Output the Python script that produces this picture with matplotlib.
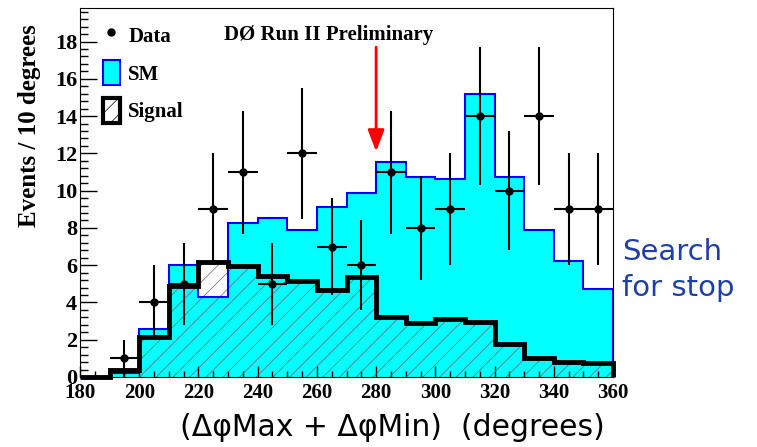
import matplotlib
matplotlib.use('Agg')
import matplotlib.pyplot as plt
from matplotlib.patches import Patch
from matplotlib.lines import Line2D
from matplotlib.ticker import MultipleLocator

# histogram binning (degrees)
bin_edges = [180, 190, 200, 210, 220, 230, 240, 250, 260, 270,
             280, 290, 300, 310, 320, 330, 340, 350, 360]

# SM expectation per bin
sm_counts = [0.0, 0.2, 2.6, 6.0, 4.3, 8.25, 8.55, 7.9, 9.1, 9.9,
             11.55, 10.75, 10.65, 15.2, 10.75, 7.9, 6.2, 4.7]

# signal expectation per bin
signal_counts = [0.0, 0.35, 2.17, 4.86, 6.15, 5.94, 5.4, 5.13, 4.65, 5.37,
                 3.2, 2.88, 3.1, 2.93, 1.77, 1.04, 0.79, 0.73]

# data points (bin centres)
data_x = [195, 205, 215, 225, 235, 245, 255, 265, 275,
          285, 295, 305, 315, 325, 335, 345, 355]
data_y = [1, 4, 5, 9, 11, 5, 12, 7, 6, 11, 8, 9, 14, 10, 14, 9, 9]
data_err = [1.0, 2.0, 2.2, 3.0, 3.3, 2.2, 3.5, 2.6, 2.4,
            3.3, 2.8, 3.0, 3.7, 3.2, 3.7, 3.0, 3.0]
bin_half_width = 5

x_ticks = [180, 200, 220, 240, 260, 280, 300, 320, 340, 360]
y_ticks = [0, 2, 4, 6, 8, 10, 12, 14, 16, 18]

# cut position marked by the arrow
cut_x = 280
arrow_top, arrow_tip = 17.7, 12.1

plt.rcParams['font.family'] = ['Liberation Serif', 'DejaVu Serif']
plt.rcParams['font.weight'] = 'bold'
plt.rcParams['hatch.linewidth'] = 0.5

fig = plt.figure(figsize=(7.57, 4.47), dpi=100)
ax = fig.add_axes([80 / 757, 1 - 377 / 447, 533 / 757, 369 / 447])

# SM fill, signal hatching, then the outlines on top
ax.stairs(sm_counts, bin_edges, fill=True, facecolor='#00ffff',
          edgecolor='none', zorder=1)
ax.stairs(signal_counts, bin_edges, fill=True, facecolor='none',
          edgecolor='#666666', hatch='//', linewidth=0, zorder=2)
ax.stairs(sm_counts, bin_edges, fill=False, color='#0000ff',
          linewidth=1.5, zorder=3)
ax.stairs(signal_counts, bin_edges, fill=False, color='black',
          linewidth=3.5, zorder=4, clip_on=False)
ax.errorbar(data_x, data_y, yerr=data_err, xerr=bin_half_width, fmt='o',
            color='black', markersize=5, elinewidth=1.5, capsize=0, zorder=5)

ax.set_xlim(180, 360)
ax.set_ylim(0, 19.8)
ax.set_xticks(x_ticks)
ax.set_yticks(y_ticks)
ax.xaxis.set_minor_locator(MultipleLocator(5))
ax.yaxis.set_minor_locator(MultipleLocator(0.4))
ax.tick_params(which='both', direction='in', top=False, right=False, width=1)
ax.tick_params(axis='x', which='major', length=8, pad=4, labelsize=15)
ax.tick_params(axis='x', which='minor', length=4.3)
ax.tick_params(axis='y', which='major', length=12, pad=2, labelsize=16)
ax.tick_params(axis='y', which='minor', length=6)

fig.text(30 / 757, 1 - 126 / 447, 'Events / 10 degrees', rotation=90,
         ha='center', va='center', fontsize=18)

# legend
handles = [Line2D([], [], marker='o', color='black', linestyle='none', markersize=5),
           Patch(facecolor='#00ffff', edgecolor='#0000ff', linewidth=1.5),
           Patch(facecolor='white', edgecolor='black', linewidth=3, hatch='//')]
ax.legend(handles, ['Data', 'SM', 'Signal'], loc='upper left',
          bbox_to_anchor=(0.043, 0.962), frameon=False, fontsize=15,
          handlelength=0.82, handleheight=1.5, labelspacing=0.6,
          handletextpad=0.4, borderpad=0, borderaxespad=0)

ax.text(264, 18.35, 'DØ Run II Preliminary', ha='center', va='center', fontsize=15)
ax.annotate('', xy=(cut_x, arrow_tip), xytext=(cut_x, arrow_top),
            arrowprops=dict(arrowstyle='-|>,head_width=0.25,head_length=0.65',
                            color='red', lw=2, mutation_scale=20,
                            shrinkA=0, shrinkB=0))

fig.text(622 / 757, 1 - 270 / 447, 'Search\nfor stop', ha='left', va='center',
         fontsize=21, color='#1f3fa8', family='DejaVu Sans', weight='normal',
         linespacing=1.4)
fig.text(392 / 757, 1 - 428 / 447, '(ΔφMax + ΔφMin)  (degrees)', ha='center',
         va='center', fontsize=21.5, family='DejaVu Sans', weight='normal')

fig.savefig('out.png', dpi=100)
